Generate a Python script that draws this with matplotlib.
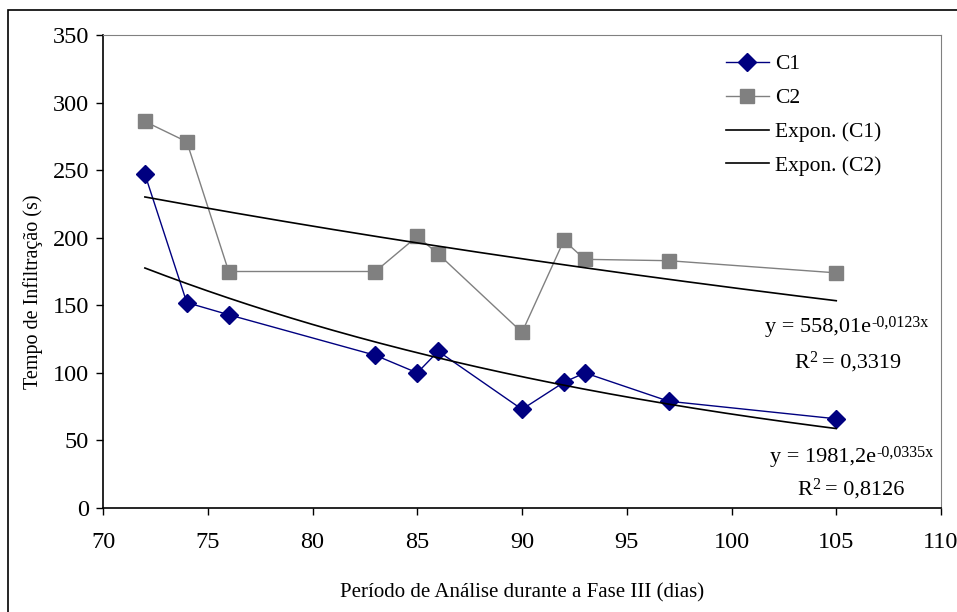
import matplotlib.pyplot as plt
import numpy as np
from matplotlib.patches import Rectangle

# dias de análise e tempos de infiltração
dias = [72, 74, 76, 83, 85, 86, 90, 92, 93, 97, 105]
c1 = [247, 152, 143, 113, 100, 116, 73, 93, 100, 79, 66]
c2 = [286, 271, 175, 175, 201, 188, 130, 198, 184, 183, 174]

# ajustes exponenciais y = a*exp(b*x)
a1, b1 = 1981.2, -0.0335
a2, b2 = 558.01, -0.0123
r2_c1, r2_c2 = "0,8126", "0,3319"

plt.rcParams['font.family'] = ['Liberation Serif', 'DejaVu Serif']

W, H = 957, 612
fig = plt.figure(figsize=(W / 100, H / 100), dpi=100)
ax = fig.add_axes([103 / W, 1 - 508 / H, (941 - 103) / W, (508 - 35) / H])

# moldura externa
fig.patches.append(Rectangle((8 / W, -0.1), 1.2, 1 - 10 / H + 0.1, transform=fig.transFigure,
                             fill=False, edgecolor='black', linewidth=1.2))

ax.plot(dias, c1, color='#000080', marker='D', markersize=9, linewidth=1, label='C1')
ax.plot(dias, c2, color='#808080', marker='s', markersize=10, linewidth=1, label='C2')

xs = np.linspace(dias[0], dias[-1], 200)
ax.plot(xs, a1 * np.exp(b1 * xs), color='black', linewidth=1.2, label='Expon. (C1)')
ax.plot(xs, a2 * np.exp(b2 * xs), color='black', linewidth=1.2, label='Expon. (C2)')

ax.set_xlim(70, 110)
ax.set_ylim(0, 350)
ax.set_xticks(range(70, 111, 5))
ax.set_yticks(range(0, 351, 50))
ax.tick_params(labelsize=17.5, direction='out', length=5, width=1)
ax.tick_params(axis='x', pad=12)
ax.tick_params(axis='y', pad=5)
ax.spines['top'].set_color('#808080')
ax.spines['right'].set_color('#808080')
for s in ['left', 'bottom']:
    ax.spines[s].set_linewidth(1.2)

ax.set_xlabel('Período de Análise durante a Fase III (dias)', fontsize=15, labelpad=22)
ax.set_ylabel('Tempo de Infiltração (s)', fontsize=14.5)
ax.yaxis.set_label_coords((43 - 103) / 838, 0.458)

ax.legend(loc='upper left', bbox_to_anchor=(0.72, 1.0), frameon=False, fontsize=15.5,
          handlelength=2.0, labelspacing=0.64, handletextpad=0.3)


def equacao(x, y, base, expo):
    t = ax.text(x, y, base, fontsize=16, va='baseline')
    ax.annotate(expo, xy=(1, 1), xycoords=t, xytext=(0, -3), textcoords='offset points',
                fontsize=11.5, va='center', ha='left')


def r2(x, y, valor):
    t = ax.text(x, y, 'R', fontsize=16, va='baseline')
    ax.annotate('2', xy=(1, 1), xycoords=t, xytext=(0, -3), textcoords='offset points',
                fontsize=11.5, va='center', ha='left')
    ax.annotate('= ' + valor, xy=(1, 0), xycoords=t, xytext=(9, 0), textcoords='offset points',
                fontsize=16, va='bottom', ha='left')


# equações das linhas de tendência
equacao(101.6, 130, 'y = 558,01e', '-0,0123x')
equacao(101.85, 34, 'y = 1981,2e', '-0,0335x')
r2(103.0, 103.6, r2_c2)
r2(103.15, 9.6, r2_c1)

fig.savefig('out.png', dpi=100)
